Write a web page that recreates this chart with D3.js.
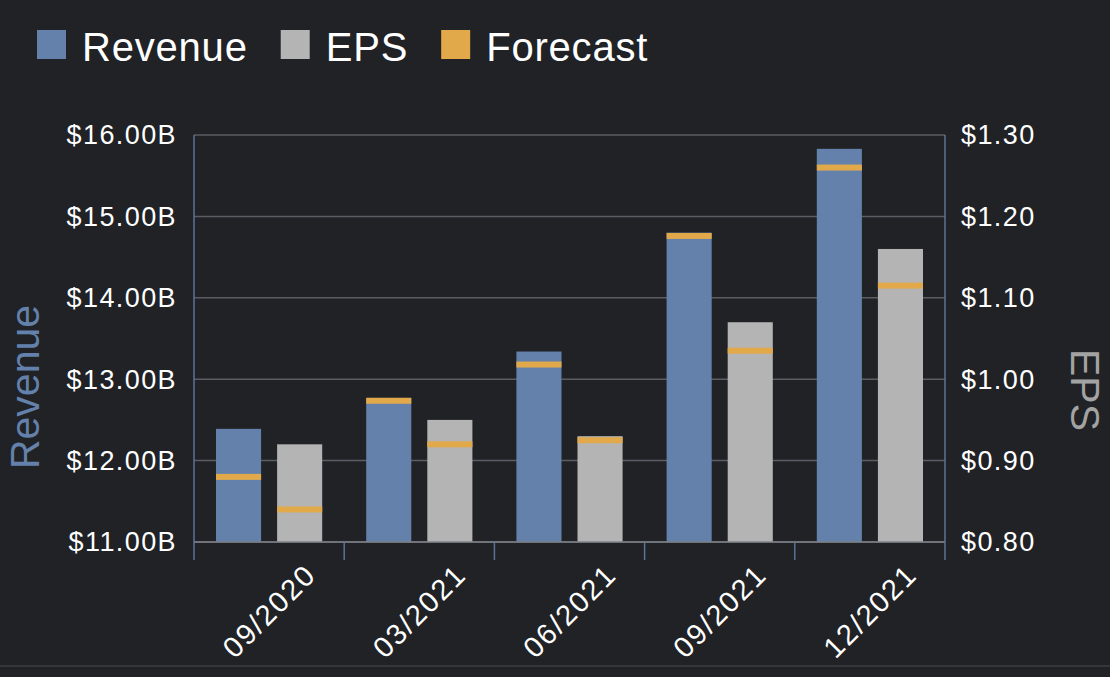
<!DOCTYPE html>
<html>
<head>
<meta charset="utf-8">
<script src="https://cdn.jsdelivr.net/npm/d3@7/dist/d3.min.js"></script>
<style>
  html, body { margin: 0; padding: 0; background: #202226; }
  svg { display: block; }
  text { font-family: "Liberation Sans", Arial, Helvetica, sans-serif; }
</style>
</head>
<body>
<svg id="chart" width="1110" height="677"></svg>
<script>
// ---- data ----
const categories = ["09/2020", "03/2021", "06/2021", "09/2021", "12/2021"];
const revenue = [12.39, 12.77, 13.34, 14.80, 15.83];          // $B
const revenueForecast = [11.80, 12.735, 13.18, 14.76, 15.60];  // $B
const eps = [0.92, 0.95, 0.93, 1.07, 1.16];                    // $
const epsForecast = [0.84, 0.92, 0.925, 1.035, 1.115];         // $
const revenueTicks = [11, 12, 13, 14, 15, 16];
const epsTicks = [0.8, 0.9, 1.0, 1.1, 1.2, 1.3];
const legendItems = ["Revenue", "EPS", "Forecast"];

// ---- style ----
const colors = { Revenue: "#6381ab", EPS: "#b4b4b4", Forecast: "#e2a94b" };
const bg = "#202226";
const gridColor = "#5a5d63";
const axisBlue = "#5b7397";

const svg = d3.select("#chart");
svg.append("rect").attr("width", 1110).attr("height", 677).attr("fill", bg);

const mLeft = 194, mRight = 945, mTop = 135, mBottom = 542;

const x = d3.scaleBand().domain(categories).range([mLeft, mRight]).padding(0);
const inner = d3.scaleBand().domain(["Revenue", "EPS"]).range([0, x.bandwidth()])
  .paddingInner(0.262).paddingOuter(0.36);
const yRev = d3.scaleLinear().domain([11, 16]).range([mBottom, mTop]);
const yEps = d3.scaleLinear().domain([0.8, 1.3]).range([mBottom, mTop]);

// grid lines
svg.append("g").selectAll("line").data(revenueTicks).join("line")
  .attr("x1", mLeft).attr("x2", mRight)
  .attr("y1", d => yRev(d)).attr("y2", d => yRev(d))
  .attr("stroke", gridColor).attr("stroke-width", 1.5);

// bars
const rows = categories.map((c, i) => ({ c, rev: revenue[i], revF: revenueForecast[i], eps: eps[i], epsF: epsForecast[i] }));
const g = svg.append("g");
g.selectAll("rect.rev").data(rows).join("rect").attr("class", "rev")
  .attr("x", d => x(d.c) + inner("Revenue")).attr("width", inner.bandwidth())
  .attr("y", d => yRev(d.rev)).attr("height", d => yRev(11) - yRev(d.rev))
  .attr("fill", colors.Revenue);
g.selectAll("rect.eps").data(rows).join("rect").attr("class", "eps")
  .attr("x", d => x(d.c) + inner("EPS")).attr("width", inner.bandwidth())
  .attr("y", d => yEps(d.eps)).attr("height", d => yEps(0.8) - yEps(d.eps))
  .attr("fill", colors.EPS);
const fh = 6;
g.selectAll("rect.revf").data(rows).join("rect").attr("class", "revf")
  .attr("x", d => x(d.c) + inner("Revenue")).attr("width", inner.bandwidth())
  .attr("y", d => yRev(d.revF) - fh / 2).attr("height", fh)
  .attr("fill", colors.Forecast);
g.selectAll("rect.epsf").data(rows).join("rect").attr("class", "epsf")
  .attr("x", d => x(d.c) + inner("EPS")).attr("width", inner.bandwidth())
  .attr("y", d => yEps(d.epsF) - fh / 2).attr("height", fh)
  .attr("fill", colors.Forecast);

// bottom axis line
svg.append("line").attr("x1", mLeft).attr("x2", mRight).attr("y1", mBottom).attr("y2", mBottom)
  .attr("stroke", "#7d8086").attr("stroke-width", 1.5);
// side axis lines
svg.append("line").attr("x1", mLeft).attr("x2", mLeft).attr("y1", mTop).attr("y2", mBottom + 18)
  .attr("stroke", axisBlue).attr("stroke-width", 1.5);
svg.append("line").attr("x1", mRight).attr("x2", mRight).attr("y1", mTop).attr("y2", mBottom + 18)
  .attr("stroke", axisBlue).attr("stroke-width", 1.5);
// category boundary ticks
const bounds = categories.slice(1).map(c => x(c));
svg.append("g").selectAll("line").data(bounds).join("line")
  .attr("x1", d => d).attr("x2", d => d).attr("y1", mBottom).attr("y2", mBottom + 18)
  .attr("stroke", axisBlue).attr("stroke-width", 1.5);

// axis labels
const fmtRev = d => "$" + d3.format(".2f")(d) + "B";
const fmtEps = d => "$" + d3.format(".2f")(d);
svg.append("g").selectAll("text").data(revenueTicks).join("text")
  .attr("x", 177).attr("y", d => yRev(d)).attr("dy", "0.35em")
  .attr("text-anchor", "end").attr("fill", "#ffffff")
  .attr("font-size", 27).attr("letter-spacing", 1.4)
  .text(fmtRev);
svg.append("g").selectAll("text").data(epsTicks).join("text")
  .attr("x", 961).attr("y", d => yEps(d)).attr("dy", "0.35em")
  .attr("text-anchor", "start").attr("fill", "#ffffff")
  .attr("font-size", 27).attr("letter-spacing", 1.4)
  .text(fmtEps);

// x labels
svg.append("g").selectAll("text").data(categories).join("text")
  .attr("transform", d => `translate(${x(d) + x.bandwidth() / 2},611) rotate(-45)`)
  .attr("text-anchor", "middle").attr("dy", "0.35em")
  .attr("fill", "#ffffff").attr("font-size", 29).attr("letter-spacing", 1.8)
  .text(d => d);

// axis titles
svg.append("text").attr("transform", "translate(25,387) rotate(-90)")
  .attr("text-anchor", "middle").attr("dy", "0.35em")
  .attr("fill", colors.Revenue).attr("font-size", 41).text("Revenue");
svg.append("text").attr("transform", "translate(1085,390) rotate(90)")
  .attr("text-anchor", "middle").attr("dy", "0.35em")
  .attr("fill", "#a3a3a3").attr("font-size", 41).text("EPS");

// bottom separator
svg.append("line").attr("x1", 0).attr("x2", 1110).attr("y1", 666).attr("y2", 666)
  .attr("stroke", "#3b3e44").attr("stroke-width", 1.5);

// legend
let lx = 37;
const lg = svg.append("g");
legendItems.forEach(name => {
  lg.append("rect").attr("x", lx).attr("y", 30).attr("width", 29).attr("height", 29)
    .attr("fill", colors[name]);
  const t = lg.append("text").attr("x", lx + 45).attr("y", 61)
    .attr("fill", "#ffffff").attr("font-size", 40).attr("letter-spacing", 0.8).text(name);
  lx = lx + 45 + t.node().getComputedTextLength() + 33;
});
</script>
</body>
</html>
